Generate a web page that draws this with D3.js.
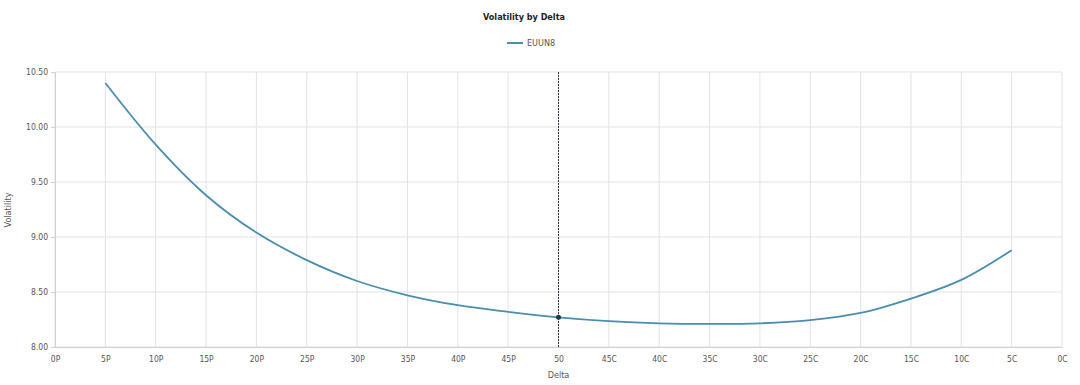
<!DOCTYPE html>
<html>
<head>
<meta charset="utf-8">
<script src="https://cdn.jsdelivr.net/npm/d3@7"></script>
<style>
    body { margin: 0; background: #fff; }
    svg text { font-family: "Liberation Sans Narrow", "DejaVu Sans Condensed", "Liberation Sans", sans-serif; }
</style>
</head>
<body>
<div id="chart"></div>
<script>
"use strict";

// delta buckets along the x axis
var deltaLabels = ["0P", "5P", "10P", "15P", "20P", "25P", "30P", "35P", "40P", "45P", "50",
    "45C", "40C", "35C", "30C", "25C", "20C", "15C", "10C", "5C", "0C"];

// EUUN8 volatility per delta (no value at 0P / 0C)
var curveDeltas = ["5P", "10P", "15P", "20P", "25P", "30P", "35P", "40P", "45P", "50",
    "45C", "40C", "35C", "30C", "25C", "20C", "15C", "10C", "5C"];
var volValues = [10.40, 9.84, 9.38, 9.04, 8.79, 8.60, 8.47, 8.38, 8.32, 8.27,
    8.235, 8.215, 8.21, 8.215, 8.245, 8.31, 8.44, 8.61, 8.88];

var yTicks = [8.00, 8.50, 9.00, 9.50, 10.00, 10.50];
var seriesName = "EUUN8";
var markerDelta = "50";

var data = curveDeltas.map((d, i) => ({ delta: d, vol: volValues[i] }));

var W = 1080, H = 385;
var margin = { top: 72, right: 18, bottom: 38, left: 55 };
var width = W - margin.left - margin.right;
var height = H - margin.top - margin.bottom;

var svgRoot = d3.select("#chart").append("svg")
    .attr("width", W)
    .attr("height", H);

// title
svgRoot.append("text")
    .attr("x", 524).attr("y", 20)
    .attr("text-anchor", "middle")
    .style("font-size", "9px")
    .style("font-weight", "bold")
    .attr("fill", "#222")
    .text("Volatility by Delta");

// legend
svgRoot.append("line")
    .attr("x1", 507).attr("x2", 523)
    .attr("y1", 43).attr("y2", 43)
    .attr("stroke", "#4a8db0").attr("stroke-width", 2);
svgRoot.append("text")
    .attr("x", 527).attr("y", 46)
    .style("font-size", "9px")
    .attr("fill", "#555")
    .text(seriesName);

var svg = svgRoot.append("g")
    .attr("transform", `translate(${margin.left},${margin.top})`);

// scales
var x = d3.scalePoint()
    .domain(deltaLabels)
    .range([0, width]);

var y = d3.scaleLinear()
    .domain([8.0, 10.5])
    .range([height, 0]);

// grid
svg.append("g")
    .selectAll("line.vg")
    .data(deltaLabels)
    .join("line")
    .attr("x1", d => x(d)).attr("x2", d => x(d))
    .attr("y1", 0).attr("y2", height)
    .attr("stroke", "#e2e1ea").attr("stroke-width", 1);

svg.append("g")
    .selectAll("line.hg")
    .data(yTicks)
    .join("line")
    .attr("x1", 0).attr("x2", width)
    .attr("y1", d => y(d)).attr("y2", d => y(d))
    .attr("stroke", "#e2e1ea").attr("stroke-width", 1);

// axes
var xAxis = svg.append("g")
    .attr("transform", `translate(0,${height})`)
    .call(d3.axisBottom(x).tickSize(0).tickPadding(9));
xAxis.select(".domain").attr("stroke", "#cfcfd6");
xAxis.selectAll("text").style("font-size", "8.5px").attr("fill", "#555");

var yAxis = svg.append("g")
    .call(d3.axisLeft(y).tickValues(yTicks).tickFormat(d3.format(".2f")).tickSize(4).tickPadding(3));
yAxis.select(".domain").attr("stroke", "#cfcfd6");
yAxis.selectAll(".tick line").attr("stroke", "#cfcfd6");
yAxis.selectAll("text").style("font-size", "8.5px").attr("fill", "#555");

// axis titles
svgRoot.append("text")
    .attr("x", margin.left + x(markerDelta)).attr("y", 378)
    .attr("text-anchor", "middle")
    .style("font-size", "9px").attr("fill", "#555")
    .text("Delta");

svgRoot.append("text")
    .attr("transform", "translate(11,210) rotate(-90)")
    .attr("text-anchor", "middle")
    .style("font-size", "9px").attr("fill", "#555")
    .text("Volatility");

// marker line at 50 delta
svg.append("line")
    .attr("x1", x(markerDelta)).attr("x2", x(markerDelta))
    .attr("y1", 0).attr("y2", height)
    .attr("stroke", "#2a3550").attr("stroke-width", 1)
    .attr("stroke-dasharray", "2,1");

// curve
var line = d3.line()
    .x(d => x(d.delta))
    .y(d => y(d.vol))
    .curve(d3.curveCatmullRom);

svg.append("path")
    .datum(data)
    .attr("fill", "none")
    .attr("stroke", "#4a8db0")
    .attr("stroke-width", 1.8)
    .attr("d", line);

// marker point
var mk = data.find(d => d.delta === markerDelta);
svg.append("circle")
    .attr("cx", x(mk.delta))
    .attr("cy", y(mk.vol))
    .attr("r", 2.5)
    .attr("fill", "#1f3a4a");
</script>
</body>
</html>
